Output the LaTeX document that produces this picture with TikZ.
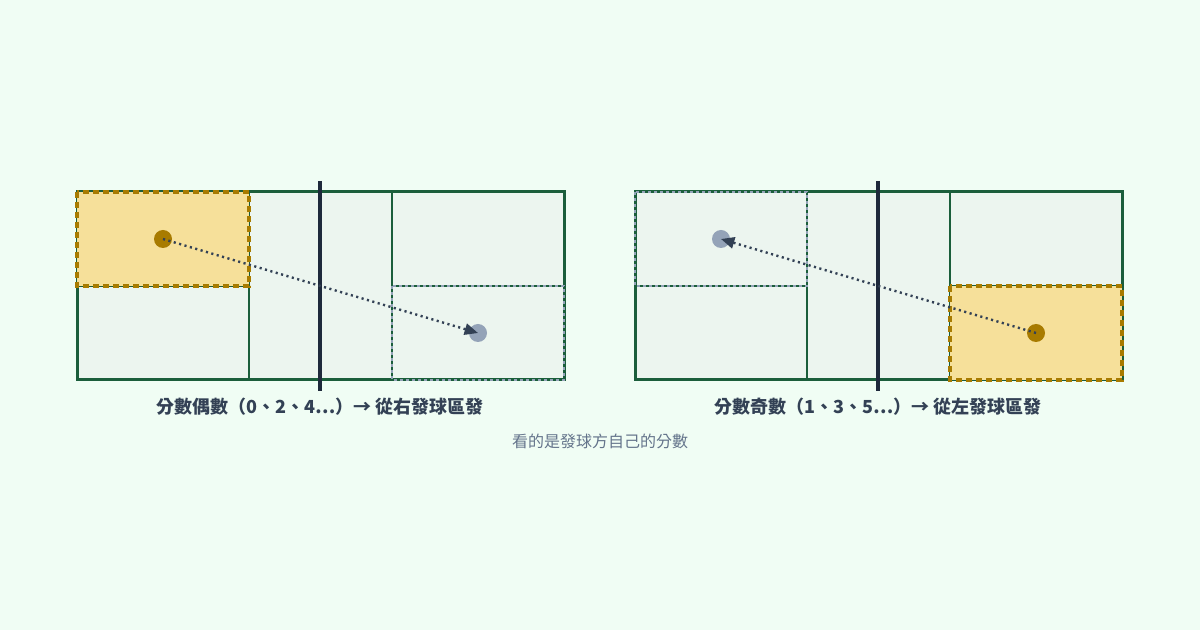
\documentclass[tikz,border=0pt]{standalone}
\usepackage{fontspec}
\newfontfamily\cjk{Noto Sans CJK TC}
\usetikzlibrary{arrows.meta}

\definecolor{bgmint}{HTML}{F0FDF4}
\definecolor{courtfill}{HTML}{ECF5EF}
\definecolor{courtline}{HTML}{1B5E3B}
\definecolor{netnavy}{HTML}{1E293B}
\definecolor{goldfill}{HTML}{F6E09A}
\definecolor{goldline}{HTML}{A87B00}
\definecolor{slatedot}{HTML}{94A3B8}
\definecolor{arrowink}{HTML}{334155}
\definecolor{subgray}{HTML}{64748B}

\begin{document}
\begin{tikzpicture}[x=0.75pt,y=0.75pt,yscale=-1,xscale=1,
  courtbox/.style={draw=courtline,fill=courtfill,line width=2.25pt},
  courtln/.style={draw=courtline,line width=1.8pt},
  servebox/.style={fill=goldfill,draw=goldline,line width=2.5pt,dash pattern=on 4.5pt off 3pt},
  recvbox/.style={draw=slatedot,line width=1.8pt,dash pattern=on 2.25pt off 2.25pt},
  netln/.style={draw=netnavy,line width=3.3pt},
  srvdot/.style={circle,fill=goldline,inner sep=0pt,minimum size=13.5pt},
  rcvdot/.style={circle,fill=slatedot,inner sep=0pt,minimum size=13.5pt},
  servepath/.style={draw=arrowink,line width=1.8pt,dash pattern=on 1.6pt off 2.6pt,-{Triangle[length=10pt,width=8.5pt]}},
  caption/.style={font=\cjk\bfseries\fontsize{13.5pt}{16pt}\selectfont,text=arrowink,inner sep=0.75pt},
  subcaption/.style={font=\cjk\fontsize{12pt}{14pt}\selectfont,text=subgray,inner sep=0.75pt}]

%background
\fill [bgmint] (0,0) rectangle (1200,630) ;
\useasboundingbox (0,0) rectangle (1200,630) ;

%Left court
\draw [courtbox] (77,192) rectangle (564,380) ;
\draw [courtln] (249,192) -- (249,380) ;
\draw [courtln] (392,192) -- (392,380) ;
\draw [courtln] (77,286) -- (249,286) ;
\draw [courtln] (392,286) -- (564,286) ;
%service boxes
\draw [servebox] (77,192) rectangle (249,286) ;
\draw [recvbox] (392,286) rectangle (564,380) ;
%net
\draw [netln] (320,181) -- (320,391) ;

%Right court
\draw [courtbox] (635,192) rectangle (1122,380) ;
\draw [courtln] (807,192) -- (807,380) ;
\draw [courtln] (950,192) -- (950,380) ;
\draw [courtln] (635,286) -- (807,286) ;
\draw [courtln] (950,286) -- (1122,286) ;
%service boxes
\draw [servebox] (950,286) rectangle (1122,380) ;
\draw [recvbox] (635,192) rectangle (807,286) ;
%net
\draw [netln] (878,181) -- (878,391) ;

%players
\node [srvdot] (srvL) at (163,239) {} ;
\node [rcvdot] (rcvL) at (478,333) {} ;
\node [srvdot] (srvR) at (1036,333) {} ;
\node [rcvdot] (rcvR) at (721,239) {} ;

%serve direction
\draw [servepath] (srvL.center) -- (rcvL.center) ;
\draw [servepath] (srvR.center) -- (rcvR.center) ;

% Text Node
\node [caption] (capL) at (320,407) {分數偶數（0、2、4⋯）→ 從右發球區發} ;
% Text Node
\node [caption] (capR) at (878,407) {分數奇數（1、3、5⋯）→ 從左發球區發} ;
% Text Node
\node [subcaption] (note) at (600,441) {看的是發球方自己的分數} ;

\end{tikzpicture}
\end{document}
